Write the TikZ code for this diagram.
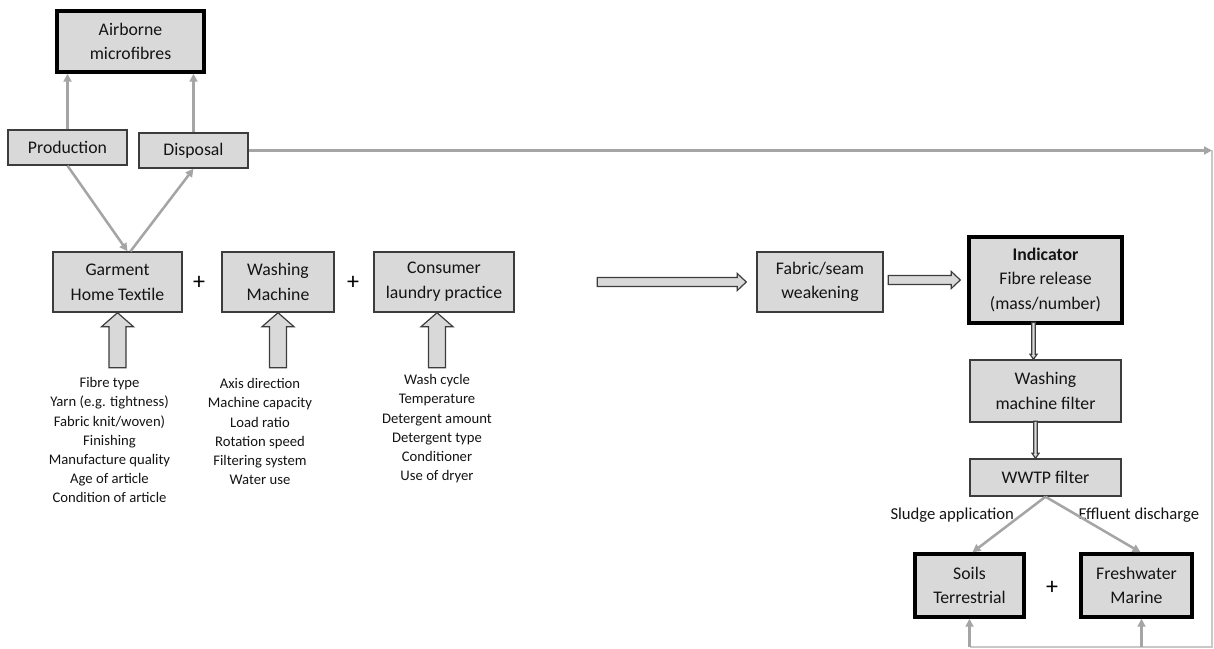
\documentclass[tikz,border=0pt]{standalone}
\usepackage{fontspec}
\setmainfont{Carlito}
\usetikzlibrary{arrows.meta,calc}

\definecolor{boxfill}{RGB}{217,217,217}
\definecolor{linkgrey}{RGB}{165,165,165}
\definecolor{railgrey}{RGB}{200,200,200}
\definecolor{edgegrey}{RGB}{60,60,60}

\tikzset{every picture/.style={line width=0.75pt}}
\tikzset{
  stagebox/.style={draw=edgegrey, fill=boxfill, line width=1.1pt, align=center, inner sep=0pt, text=black!92, font=\fontsize{13.3}{18.5}\selectfont},
  keybox/.style={stagebox, draw=black, line width=2.6pt},
  link/.style={draw=linkgrey, line width=1.9pt, -{Triangle[length=6pt,width=6pt]}},
  rail/.style={draw=railgrey, line width=1.1pt},
  factorlist/.style={align=center, inner sep=0pt, anchor=north, text=black!92, font=\fontsize{11}{14.4}\selectfont},
  routelabel/.style={inner sep=0pt, anchor=base west, text=black!92, font=\fontsize{12.5}{15}\selectfont},
  plussign/.style={inner sep=0pt, text=black, font=\fontsize{18}{18}\selectfont},
  blockline/.style={draw=edgegrey, fill=boxfill, line width=0.9pt, line join=miter},
  pics/blockup/.style={code={\draw[blockline] (0,0) -- (16,-14) -- (8.5,-14) -- (8.5,-#1) -- (-8.5,-#1) -- (-8.5,-14) -- (-16,-14) -- cycle;}},
  pics/blockright/.style={code={\draw[blockline] (0,0) -- (-9,8.5) -- (-9,4.5) -- (-#1,4.5) -- (-#1,-4.5) -- (-9,-4.5) -- (-9,-8.5) -- cycle;}},
  pics/blockdown/.style={code={\draw[blockline] (0,0) -- (3.5,5) -- (1.8,5) -- (1.8,#1) -- (-1.8,#1) -- (-1.8,5) -- (-3.5,5) -- cycle;}},
}

\begin{document}
\begin{tikzpicture}[x=0.75pt,y=0.75pt,yscale=-1,xscale=1]
\useasboundingbox (0,0) rectangle (1214,649);

% Boxes
\node[keybox, minimum width=110.25pt, minimum height=45.75pt] (airborne) at (130.5,41.5) {Airborne\\microfibres};
\node[stagebox, minimum width=89.25pt, minimum height=26.25pt] (production) at (67.5,147.5) {Production};
\node[stagebox, minimum width=81.75pt, minimum height=26.25pt] (disposal) at (193.5,150.5) {Disposal};
\node[stagebox, minimum width=96.75pt, minimum height=45pt] (garment) at (117.5,282) {Garment\\Home Textile};
\node[stagebox, minimum width=84pt, minimum height=45pt] (washing) at (278,282) {Washing\\Machine};
\node[stagebox, minimum width=105pt, minimum height=45pt] (consumer) at (444,282) {Consumer\\laundry practice};
\node[stagebox, minimum width=94.5pt, minimum height=45pt] (fabric) at (820,282) {Fabric/seam\\weakening};
\node[keybox, minimum width=114.75pt, minimum height=64.5pt] (indicator) at (1045.5,280) {\textbf{Indicator}\\Fibre release\\(mass/number)};
\node[stagebox, minimum width=113.25pt, minimum height=46.5pt] (wmfilter) at (1045.5,391) {Washing\\machine filter};
\node[stagebox, minimum width=113.25pt, minimum height=27.75pt] (wwtp) at (1045.5,477.5) {WWTP filter};
\node[keybox, minimum width=81.75pt, minimum height=47.25pt] (soils) at (969.5,585.5) {Soils\\Terrestrial};
\node[keybox, minimum width=83.25pt, minimum height=47.25pt] (fresh) at (1136.5,585.5) {Freshwater\\Marine};

% Text Node
\node[plussign] (plusA) at (199,283) {+};
\node[plussign] (plusB) at (353,283) {+};
\node[plussign] (plusC) at (1052,588) {+};

% Text Node
\node[factorlist] (garmentlist) at (109.5,377) {Fibre type\\Yarn (e.g. tightness)\\Fabric knit/woven)\\Finishing\\Manufacture quality\\Age of article\\Condition of article};
\node[factorlist] (washinglist) at (260,378) {Axis direction\\Machine capacity\\Load ratio\\Rotation speed\\Filtering system\\Water use};
\node[factorlist] (consumerlist) at (437,374) {Wash cycle\\Temperature\\Detergent amount\\Detergent type\\Conditioner\\Use of dryer};

% Text Node
\node[routelabel] (sludge) at (890,519) {Sludge application};
\node[routelabel] (effluent) at (1078,519) {Effluent discharge};

\coordinate (gtop) at ($(garment.north)+(10,0)$);
\coordinate (railtop) at (1212,150);
\coordinate (railend) at (1212,647);

%Straight Lines
\draw[link] (production.north) -- (production.north |- airborne.south);
\draw[link] (disposal.north) -- (disposal.north |- airborne.south);
\draw[link] (production.south) -- (gtop);
\draw[link] ($(gtop)+(3,0)$) -- (disposal.south);
\draw[link] (disposal.east) -- (disposal.east -| railtop);
\draw[link] (wwtp.south) -- ($(soils.north)+(3,0)$);
\draw[link] (wwtp.south) -- ($(fresh.north)+(4,0)$);

% back to the receiving environment
\draw[rail] (railtop) -- (railend) -- (soils.south |- railend);
\draw[link] (soils.south |- railend) -- (soils.south);
\draw[link] ($(fresh.south |- railend)+(5,0)$) -- ($(fresh.south)+(5,0)$);

% Block arrows
\pic at (garment.south) {blockup=55};
\pic at (washing.south) {blockup=55};
\pic at ($(consumer.south)+(-7,0)$) {blockup=55};
\pic at ($(fabric.west)+(-10,0)$) {blockright=149};
\pic at ($(indicator.west)+(-7,0)$) {blockright=72};
\pic at ($(wmfilter.north)+(-12,0)$) {blockdown=37};
\pic at ($(wwtp.north)+(-10,0)$) {blockdown=37};

\end{tikzpicture}
\end{document}
